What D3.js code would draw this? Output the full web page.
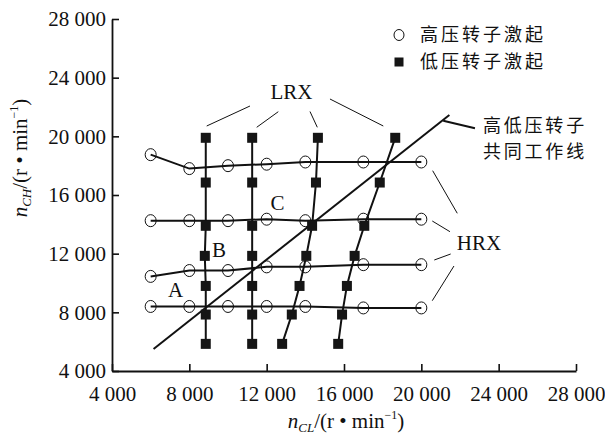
<!DOCTYPE html>
<html>
<head>
<meta charset="utf-8">
<script src="https://cdn.jsdelivr.net/npm/d3@7"></script>
<style>
  html, body { margin: 0; padding: 0; background: #fff; }
  svg { display: block; }
</style>
</head>
<body>
<svg id="chart" width="605" height="435"></svg>
<script>
// Axis ticks (r/min)
const xTicks = [4000, 8000, 12000, 16000, 20000, 24000, 28000];
const yTicks = [4000, 8000, 12000, 16000, 20000, 24000, 28000];

// High-pressure rotor excitation (HRX): constant n_CH rows
const hpX    = [6000, 8000, 10000, 12000, 14000, 17000, 20000];
const hpRow1 = [18750, 17800, 18000, 18100, 18250, 18250, 18250];
const hpRow2 = [14250, 14250, 14250, 14350, 14250, 14350, 14350];
const hpRow3 = [10450, 10850, 10850, 11100, 11100, 11250, 11250];
const hpRow4 = [8400, 8400, 8400, 8400, 8400, 8300, 8300];

// Low-pressure rotor excitation (LRX): constant n_CL columns
const lpY    = [19900, 16850, 13900, 11850, 9800, 7850, 5850];
const lpCol1 = [8850, 8850, 8850, 8800, 8850, 8850, 8850];
const lpCol2 = [11250, 11250, 11250, 11250, 11250, 11250, 11250];
const lpCol3 = [14650, 14550, 14350, 14050, 13700, 13300, 12800];
const lpCol4 = [18650, 17850, 17050, 16550, 16150, 15900, 15700];

// Common working line of HP and LP rotors
const workX = [6150, 21450];
const workY = [5500, 21450];

const legendLabels = ["高压转子激起", "低压转子激起"];
const workLabel = ["高低压转子", "共同工作线"];

const svg = d3.select("#chart");
const serif = "'Liberation Serif', 'Times New Roman', serif";
const cjk = "'Noto Sans CJK SC', sans-serif";
const ink = "#111";

const x = d3.scaleLinear().domain([4000, 28000]).range([112, 576]);
const y = d3.scaleLinear().domain([4000, 28000]).range([371, 19]);

const fmt = d3.formatLocale({ decimal: ".", thousands: " ", grouping: [3] }).format(",");

// Axes with inward ticks
const gx = svg.append("g").attr("transform", `translate(0,${y(4000)})`)
  .call(d3.axisBottom(x).tickValues(xTicks).tickFormat(fmt)
        .tickSizeInner(-7).tickSizeOuter(0).tickPadding(15));
const gy = svg.append("g").attr("transform", `translate(${x(4000)},0)`)
  .call(d3.axisLeft(y).tickValues(yTicks).tickFormat(fmt)
        .tickSizeInner(-7).tickSizeOuter(0).tickPadding(6));
[gx, gy].forEach(g => {
  g.select(".domain").attr("stroke", ink).attr("stroke-width", 1.8);
  g.selectAll(".tick line").attr("stroke", ink).attr("stroke-width", 1.6);
  g.selectAll(".tick text").attr("fill", ink)
    .style("font-family", serif).style("font-size", "21px");
});

const line = d3.line().x(d => x(d[0])).y(d => y(d[1]));
const plot = svg.append("g");

const rows = [hpRow1, hpRow2, hpRow3, hpRow4].map(r => hpX.map((v, i) => [v, r[i]]));
const cols = [lpCol1, lpCol2, lpCol3, lpCol4].map(c => lpY.map((v, i) => [c[i], v]));

rows.concat(cols).forEach(pts => {
  plot.append("path").attr("d", line(pts))
    .attr("fill", "none").attr("stroke", ink).attr("stroke-width", 2);
});
plot.append("path").attr("d", line(workX.map((v, i) => [v, workY[i]])))
  .attr("fill", "none").attr("stroke", ink).attr("stroke-width", 2);

rows.forEach(pts => {
  plot.selectAll(null).data(pts).enter().append("ellipse")
    .attr("cx", d => x(d[0])).attr("cy", d => y(d[1]))
    .attr("rx", 5.5).attr("ry", 6)
    .attr("fill", "none").attr("stroke", ink).attr("stroke-width", 1);
});
cols.forEach(pts => {
  plot.selectAll(null).data(pts).enter().append("rect")
    .attr("x", d => x(d[0]) - 5).attr("y", d => y(d[1]) - 5)
    .attr("width", 10).attr("height", 10).attr("fill", "#151515");
});

// Annotation leaders (data units)
const thin = [
  [[11137, 22068], [8898, 20704]],
  [[12601, 21680], [11484, 20616]],
  [[14241, 21693], [14619, 20616]],
  [[15275, 22545], [18032, 20704]],
  [[20586, 17657], [21859, 14752]],
  [[20566, 14227], [21481, 13498]],
  [[20669, 11568], [21517, 11977]],
  [[21688, 11159], [20566, 8793]]
];
thin.forEach(seg => {
  plot.append("path").attr("d", line(seg))
    .attr("fill", "none").attr("stroke", ink).attr("stroke-width", 1);
});
plot.append("path").attr("d", line([[21135, 21064], [22774, 20548]]))
  .attr("fill", "none").attr("stroke", ink).attr("stroke-width", 2);

const notes = [["LRX", 13285, 23023], ["HRX", 22981, 12727],
               ["A", 7284, 9523], ["B", 9534, 12250], ["C", 12560, 15454]];
notes.forEach(([t, vx, vy]) => {
  svg.append("text").attr("x", x(vx)).attr("y", y(vy)).attr("dy", "0.35em")
    .attr("text-anchor", "middle").attr("fill", ink)
    .style("font-family", serif).style("font-size", "21px").text(t);
});

workLabel.forEach((t, i) => {
  svg.append("text").attr("x", x(23188)).attr("y", y([20704, 18932][i])).attr("dy", "0.36em")
    .attr("fill", ink).style("font-family", cjk).style("font-size", "18px")
    .style("letter-spacing", "2.8px").text(t);
});

// Legend
const lg = svg.append("g").attr("transform", "translate(399,35)");
lg.append("ellipse").attr("cx", 0).attr("cy", 0).attr("rx", 5).attr("ry", 5.5)
  .attr("fill", "none").attr("stroke", ink).attr("stroke-width", 1);
lg.append("rect").attr("x", -4.5).attr("y", 22.5).attr("width", 9).attr("height", 9).attr("fill", "#151515");
legendLabels.forEach((t, i) => {
  lg.append("text").attr("x", 21).attr("y", i * 27).attr("dy", "0.36em")
    .attr("fill", ink).style("font-family", cjk).style("font-size", "18px")
    .style("letter-spacing", "3px").text(t);
});

// Axis titles
const xt = svg.append("text").attr("x", 346).attr("y", 428).attr("text-anchor", "middle")
  .attr("fill", ink).style("font-family", serif).style("font-size", "21px");
xt.append("tspan").style("font-style", "italic").text("n");
xt.append("tspan").style("font-style", "italic").style("font-size", "13px").attr("dy", 4).text("CL");
xt.append("tspan").attr("dy", -4).text("/(r • min");
xt.append("tspan").style("font-size", "12px").attr("dy", -9).text("−1");
xt.append("tspan").attr("dy", 9).text(")");

const yt = svg.append("text").attr("transform", "translate(27,158) rotate(-90)")
  .attr("text-anchor", "middle")
  .attr("fill", ink).style("font-family", serif).style("font-size", "21px");
yt.append("tspan").style("font-style", "italic").text("n");
yt.append("tspan").style("font-style", "italic").style("font-size", "13px").attr("dy", 4).text("CH");
yt.append("tspan").attr("dy", -4).text("/(r • min");
yt.append("tspan").style("font-size", "12px").attr("dy", -9).text("−1");
yt.append("tspan").attr("dy", 9).text(")");
</script>
</body>
</html>
